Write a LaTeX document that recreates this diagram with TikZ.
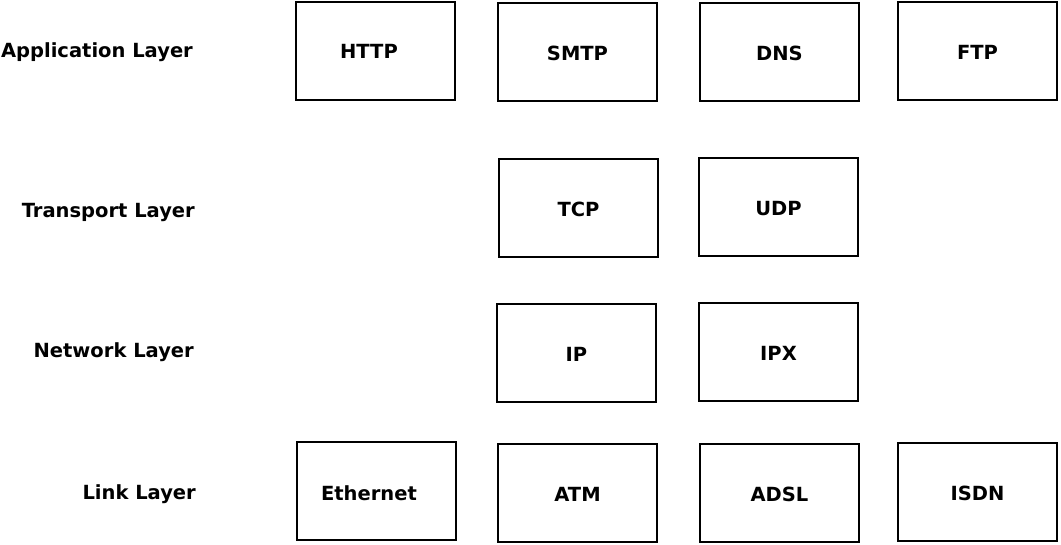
\documentclass[tikz,border=0pt]{standalone}
\usepackage{fontspec}
\setmainfont{DejaVu Sans}
\begin{document}
\begin{tikzpicture}[x=1pt,y=-1pt,
  box/.style={draw=black,line width=2pt,minimum width=159pt,minimum height=98pt,inner sep=0pt},
  lbl/.style={font=\bfseries\fontsize{19.5}{21}\selectfont,inner sep=0pt,yshift=-1.5pt},
  layer/.style={lbl,anchor=east}]
\useasboundingbox[fill=white] (0,0) rectangle (1061,545);
% boxes
\node[box] (http) at (375.5,51) {};
\node[lbl] (httpt) at (369,50) {HTTP};
\node[box] (smtp) at (577.5,52) {};
\node[lbl] at (smtp) {SMTP};
\node[box] (dns) at (779.5,52) {};
\node[lbl] at (dns) {DNS};
\node[box] (ftp) at (977.5,51) {};
\node[lbl] at (ftp) {FTP};
\node[box] (tcp) at (578.5,208) {};
\node[lbl] at (tcp) {TCP};
\node[box] (udp) at (778.5,207) {};
\node[lbl] at (udp) {UDP};
\node[box] (ip) at (576.5,353) {};
\node[lbl] at (ip) {IP};
\node[box] (ipx) at (778.5,352) {};
\node[lbl] at (ipx) {IPX};
\node[box] (eth) at (376.5,491) {};
\node[lbl] (etht) at (369,492) {Ethernet};
\node[box] (atm) at (577.5,493) {};
\node[lbl] at (atm) {ATM};
\node[box] (adsl) at (779.5,493) {};
\node[lbl] at (adsl) {ADSL};
\node[box] (isdn) at (977.5,492) {};
\node[lbl] at (isdn) {ISDN};
% layer labels
\node[layer] (app) at (193,51) {Application Layer};
\node[layer] (tra) at (195,211) {Transport Layer};
\node[layer] (net) at (194,351) {Network Layer};
\node[layer] (lnk) at (196,493) {Link Layer};
\end{tikzpicture}
\end{document}
